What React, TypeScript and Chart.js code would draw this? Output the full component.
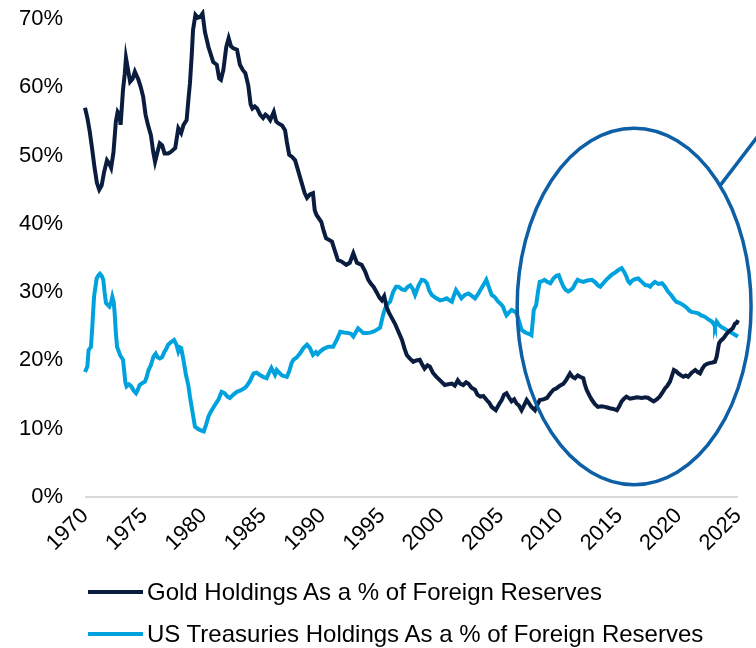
import React, { useEffect, useRef } from 'react';
import { Chart, registerables } from 'chart.js';

Chart.register(...registerables);

const FONT = "'Liberation Sans', Arial, sans-serif";

const GOLD_LABEL = 'Gold Holdings As a % of Foreign Reserves';
const TSY_LABEL = 'US Treasuries Holdings As a % of Foreign Reserves';
const GOLD_COLOR = '#0b1d3f';
const TSY_COLOR = '#00a2dd';
const CIRCLE_COLOR = '#0d5fa6';

const xTicks = [1970, 1975, 1980, 1985, 1990, 1995, 2000, 2005, 2010, 2015, 2020, 2025];
const yTicks = [0, 10, 20, 30, 40, 50, 60, 70];

const goldYears = [
  1970.0, 1970.2, 1970.4, 1970.6, 1970.8, 1971.0, 1971.2, 1971.4, 1971.6, 1971.85,
  1972.05, 1972.2, 1972.4, 1972.6, 1972.75, 1972.9, 1973.0, 1973.2, 1973.35, 1973.45,
  1973.6, 1973.8, 1974.0, 1974.2, 1974.5, 1974.7, 1974.9, 1975.1, 1975.3, 1975.55,
  1975.75, 1975.9, 1976.1, 1976.3, 1976.5, 1976.7, 1977.0, 1977.2, 1977.6, 1977.86,
  1978.1, 1978.3, 1978.56, 1978.7, 1978.84, 1979.0, 1979.1, 1979.3, 1979.5, 1979.7,
  1979.9, 1980.1, 1980.4, 1980.8, 1981.1, 1981.3, 1981.45, 1981.65, 1981.9, 1982.1,
  1982.3, 1982.5, 1982.8, 1983.05, 1983.3, 1983.5, 1983.75, 1983.95, 1984.1, 1984.3,
  1984.5, 1984.75, 1985.0, 1985.2, 1985.4, 1985.6, 1985.9, 1986.1, 1986.3, 1986.6,
  1986.85, 1987.0, 1987.2, 1987.45, 1987.7, 1988.0, 1988.25, 1988.5, 1988.7, 1988.95,
  1989.2, 1989.35, 1989.5, 1989.9, 1990.1, 1990.3, 1990.8, 1991.0, 1991.3, 1991.6,
  1992.0, 1992.3, 1992.6, 1992.9, 1993.3, 1993.6, 1993.86, 1994.1, 1994.3, 1994.56,
  1994.8, 1995.0, 1995.2, 1995.4, 1995.6, 1995.85, 1996.1, 1996.4, 1996.7, 1996.9,
  1997.1, 1997.35, 1997.65, 1997.9, 1998.2, 1998.4, 1998.6, 1998.85, 1999.05, 1999.3,
  1999.6, 1999.95, 2000.3, 2000.6, 2000.9, 2001.15, 2001.4, 2001.6, 2001.86, 2002.1,
  2002.3, 2002.55, 2002.85, 2003.05, 2003.3, 2003.55, 2003.83, 2004.05, 2004.25, 2004.6,
  2004.85, 2005.1, 2005.3, 2005.5, 2005.7, 2005.93, 2006.15, 2006.35, 2006.55, 2006.77,
  2007.0, 2007.2, 2007.4, 2007.6, 2007.9, 2008.1, 2008.3, 2008.6, 2008.9, 2009.2,
  2009.45, 2009.7, 2010.0, 2010.3, 2010.55, 2010.85, 2011.05, 2011.27, 2011.5, 2011.7,
  2011.97, 2012.1, 2012.25, 2012.5, 2012.7, 2012.95, 2013.2, 2013.5, 2013.8, 2014.0,
  2014.2, 2014.5, 2014.8, 2015.0, 2015.2, 2015.4, 2015.6, 2015.9, 2016.2, 2016.5,
  2016.9, 2017.2, 2017.45, 2017.7, 2017.9, 2018.15, 2018.4, 2018.6, 2018.85, 2019.05,
  2019.27, 2019.45, 2019.6, 2019.8, 2019.97, 2020.2, 2020.4, 2020.6, 2020.8, 2021.1,
  2021.4, 2021.6, 2021.8, 2022.0, 2022.2, 2022.4, 2022.6, 2022.85, 2023.06, 2023.2,
  2023.3, 2023.4, 2023.55, 2023.75, 2024.0, 2024.2, 2024.4, 2024.55, 2024.75, 2024.9,
  2025.0,
];
const goldPct = [
  57.0, 55.5, 53.5, 51.0, 48.3, 46.0, 45.0, 45.6, 47.5, 49.3,
  48.8, 48.2, 50.5, 55.0, 56.4, 56.0, 54.5, 59.6, 62.0, 64.3,
  62.8, 60.8, 61.2, 62.3, 61.1, 60.0, 58.6, 56.0, 54.5, 53.0,
  50.5, 49.1, 50.5, 51.8, 51.5, 50.3, 50.3, 50.5, 51.1, 54.0,
  53.3, 54.5, 55.2, 58.0, 60.6, 65.0, 68.4, 70.6, 70.2, 70.3,
  70.8, 68.1, 65.9, 63.7, 63.3, 61.3, 61.1, 62.5, 65.9, 67.2,
  66.0, 65.7, 65.5, 63.3, 62.5, 62.1, 60.3, 57.5, 56.9, 57.2,
  56.9, 56.0, 55.5, 56.0, 55.7, 55.2, 56.4, 55.0, 54.7, 54.4,
  53.7, 52.0, 50.1, 49.8, 49.3, 47.5, 46.0, 44.5, 43.8, 44.3,
  44.5, 42.0, 41.3, 40.3, 39.0, 37.9, 37.4, 36.3, 34.7, 34.5,
  34.0, 34.3, 35.7, 34.3, 34.0, 33.0, 31.8, 31.2, 30.8, 30.0,
  29.2, 28.8, 29.4, 27.8, 27.0, 26.2, 25.4, 24.2, 23.0, 21.8,
  20.8, 20.3, 19.8, 20.0, 20.1, 19.4, 18.8, 19.3, 19.1, 18.2,
  17.6, 17.0, 16.4, 16.5, 16.6, 16.3, 17.1, 16.6, 16.4, 16.8,
  16.6, 16.0, 15.7, 15.0, 14.7, 14.8, 14.2, 13.8, 13.2, 12.7,
  13.5, 14.2, 15.0, 15.2, 14.6, 14.0, 14.3, 13.7, 13.4, 12.7,
  13.5, 14.2, 13.7, 13.2, 12.7, 13.5, 14.2, 14.3, 14.5, 15.2,
  15.7, 15.9, 16.3, 16.6, 17.2, 18.1, 17.6, 17.4, 17.8, 17.6,
  17.4, 16.5, 15.7, 14.8, 14.2, 13.6, 13.2, 13.3, 13.2, 13.1,
  13.0, 12.9, 12.7, 13.3, 14.0, 14.4, 14.7, 14.4, 14.5, 14.6,
  14.5, 14.6, 14.5, 14.2, 14.0, 14.3, 14.7, 15.2, 15.9, 16.3,
  16.9, 17.8, 18.6, 18.4, 18.1, 17.8, 17.6, 17.8, 17.6, 18.2,
  18.6, 18.3, 18.1, 18.8, 19.3, 19.5, 19.6, 19.7, 19.8, 20.5,
  21.5, 22.5, 22.9, 23.2, 23.8, 24.2, 24.5, 24.7, 25.4, 25.5,
  25.9,
];

const tsyYears = [
  1970.0, 1970.2, 1970.3, 1970.5, 1970.6, 1970.76, 1970.98, 1971.15, 1971.26, 1971.4,
  1971.54, 1971.65, 1971.77, 1972.05, 1972.2, 1972.3, 1972.42, 1972.5, 1972.6, 1972.7,
  1972.95, 1973.2, 1973.3, 1973.4, 1973.5, 1973.7, 1973.9, 1974.1, 1974.3, 1974.45,
  1974.6, 1974.85, 1975.05, 1975.2, 1975.35, 1975.55, 1975.75, 1975.95, 1976.1, 1976.3,
  1976.5, 1976.7, 1976.85, 1977.0, 1977.25, 1977.5, 1977.7, 1977.86, 1978.0, 1978.1,
  1978.3, 1978.5, 1978.7, 1978.84, 1979.05, 1979.26, 1979.5, 1979.7, 1980.0, 1980.2,
  1980.4, 1980.6, 1980.95, 1981.25, 1981.5, 1981.75, 1982.0, 1982.2, 1982.5, 1982.8,
  1983.1, 1983.4, 1983.6, 1983.9, 1984.2, 1984.45, 1984.7, 1985.0, 1985.3, 1985.5,
  1985.7, 1986.0, 1986.15, 1986.3, 1986.6, 1987.0, 1987.2, 1987.4, 1987.55, 1987.8,
  1988.1, 1988.4, 1988.7, 1988.95, 1989.2, 1989.45, 1989.6, 1989.8, 1990.1, 1990.5,
  1990.9, 1991.2, 1991.5, 1991.8, 1992.2, 1992.4, 1992.6, 1993.0, 1993.2, 1993.45,
  1993.8, 1994.1, 1994.4, 1994.85, 1995.1, 1995.27, 1995.5, 1995.7, 1995.95, 1996.2,
  1996.4, 1996.7, 1996.95, 1997.2, 1997.4, 1997.6, 1997.8, 1998.1, 1998.36, 1998.6,
  1998.8, 1999.0, 1999.2, 1999.5, 1999.9, 2000.2, 2000.46, 2000.7, 2000.9, 2001.05,
  2001.25, 2001.45, 2001.7, 2002.0, 2002.3, 2002.55, 2002.85, 2003.1, 2003.4, 2003.6,
  2003.8, 2004.0, 2004.25, 2004.5, 2004.8, 2005.0, 2005.2, 2005.35, 2005.5, 2005.7,
  2005.93, 2006.15, 2006.35, 2006.55, 2006.77, 2007.0, 2007.2, 2007.4, 2007.6, 2007.7,
  2007.8, 2008.0, 2008.15, 2008.3, 2008.5, 2008.7, 2008.95, 2009.2, 2009.45, 2009.7,
  2009.9, 2010.1, 2010.3, 2010.5, 2010.7, 2010.9, 2011.1, 2011.3, 2011.5, 2011.75,
  2011.97, 2012.3, 2012.7, 2013.0, 2013.2, 2013.4, 2013.65, 2013.9, 2014.2, 2014.4,
  2014.6, 2014.9, 2015.2, 2015.4, 2015.6, 2015.75, 2015.9, 2016.1, 2016.3, 2016.6,
  2016.9, 2017.2, 2017.4, 2017.6, 2017.8, 2018.0, 2018.3, 2018.6, 2018.85, 2019.1,
  2019.4, 2019.6, 2019.8, 2020.1, 2020.4, 2020.7, 2020.9, 2021.1, 2021.4, 2021.65,
  2021.9, 2022.2, 2022.5, 2022.8, 2023.0, 2023.06, 2023.2, 2023.4, 2023.6, 2023.9,
  2024.1, 2024.3, 2024.6, 2024.8, 2025.0,
];
const tsyPct = [
  18.3, 19.1, 21.5, 22.0, 24.5, 29.3, 32.0, 32.5, 32.7, 32.4,
  31.8, 30.0, 28.4, 27.9, 28.5, 29.3, 28.5, 26.9, 24.0, 22.0,
  20.8, 20.1, 18.5, 16.8, 16.2, 16.5, 16.2, 15.6, 15.2, 15.7,
  16.4, 16.7, 16.9, 17.6, 18.6, 19.3, 20.5, 21.0, 20.5, 20.3,
  20.5, 21.3, 21.7, 22.3, 22.7, 23.0, 22.3, 21.3, 21.9, 21.8,
  20.0, 17.9, 16.4, 14.7, 12.5, 10.3, 10.0, 9.8, 9.6, 10.6,
  11.8, 12.5, 13.5, 14.3, 15.4, 15.2, 14.7, 14.5, 15.0, 15.4,
  15.6, 15.9, 16.2, 17.0, 18.1, 18.2, 17.9, 17.6, 17.4, 18.2,
  18.9, 17.9, 18.6, 18.3, 17.8, 17.6, 18.4, 19.6, 20.1, 20.4,
  21.0, 21.8, 22.3, 21.8, 20.8, 21.2, 20.9, 21.3, 21.7, 22.0,
  22.0, 23.0, 24.2, 24.1, 24.0, 23.9, 23.5, 24.7, 24.4, 24.0,
  24.0, 24.1, 24.3, 24.8, 26.6, 27.6, 28.3, 28.6, 30.0, 30.8,
  30.8, 30.4, 30.3, 30.8, 31.0, 30.5, 29.6, 31.0, 31.8, 31.7,
  31.3, 30.2, 29.6, 29.2, 28.8, 28.9, 29.1, 28.8, 28.6, 29.4,
  30.3, 29.8, 29.1, 29.6, 29.8, 29.5, 29.1, 29.7, 30.6, 31.2,
  31.8, 30.8, 29.6, 29.3, 28.6, 28.3, 27.9, 27.2, 26.6, 27.0,
  27.4, 27.2, 26.9, 25.8, 24.5, 24.2, 24.0, 23.9, 23.7, 25.5,
  27.4, 28.1, 30.0, 31.5, 31.6, 31.8, 31.5, 31.3, 32.0, 32.4,
  32.5, 31.6, 30.8, 30.3, 30.1, 30.3, 30.6, 31.3, 31.8, 31.6,
  31.5, 31.7, 31.8, 31.4, 31.0, 30.8, 31.3, 31.8, 32.3, 32.6,
  32.8, 33.2, 33.5, 33.0, 32.3, 31.6, 31.3, 31.7, 31.9, 32.0,
  31.5, 31.0, 31.0, 30.8, 31.2, 31.5, 31.2, 31.3, 30.8, 30.1,
  29.5, 29.0, 28.6, 28.4, 28.1, 27.7, 27.3, 27.1, 27.0, 26.9,
  26.6, 26.4, 26.0, 25.7, 25.2, 24.9, 25.7, 25.2, 24.9, 24.6,
  24.4, 24.2, 23.9, 23.7, 23.5,
];

// Highlight ellipse annotation, in data units (year, percent)
const ELLIPSE_CENTER = { year: 2016.25, pct: 27.9 };
const ELLIPSE_RADII = { years: 9.85, pct: 26.1 };
const CONNECTOR_ANGLE_DEG = 42.7; // point on ellipse where the connector starts
const CONNECTOR_DIR = { dx: 36, dy: -47 };

const ellipsePlugin = {
  id: 'highlightEllipse',
  afterDatasetsDraw(chart: any) {
    const { ctx, scales } = chart;
    const x = scales.x;
    const y = scales.y;
    const cx = x.getPixelForValue(ELLIPSE_CENTER.year);
    const cy = y.getPixelForValue(ELLIPSE_CENTER.pct);
    const rx = Math.abs(x.getPixelForValue(ELLIPSE_CENTER.year + ELLIPSE_RADII.years) - cx);
    const ry = Math.abs(y.getPixelForValue(ELLIPSE_CENTER.pct + ELLIPSE_RADII.pct) - cy);
    ctx.save();
    ctx.strokeStyle = CIRCLE_COLOR;
    ctx.lineWidth = 3.5;
    ctx.beginPath();
    ctx.ellipse(cx, cy, rx, ry, 0, 0, Math.PI * 2);
    ctx.stroke();
    const a = (CONNECTOR_ANGLE_DEG * Math.PI) / 180;
    const sx = cx + rx * Math.cos(a);
    const sy = cy - ry * Math.sin(a);
    const len = Math.hypot(CONNECTOR_DIR.dx, CONNECTOR_DIR.dy);
    ctx.beginPath();
    ctx.moveTo(sx, sy);
    ctx.lineTo(sx + (CONNECTOR_DIR.dx / len) * 120, sy + (CONNECTOR_DIR.dy / len) * 120);
    ctx.stroke();
    ctx.restore();
  },
};

export default function App() {
  const ref = useRef<HTMLCanvasElement>(null);

  useEffect(() => {
    document.body.style.margin = '0';
    const canvas = ref.current;
    if (!canvas) return;
    const chart = new Chart(canvas, {
      type: 'line',
      data: {
        datasets: [
          {
            label: GOLD_LABEL,
            data: goldYears.map((yr, i) => ({ x: yr, y: goldPct[i] })),
            borderColor: GOLD_COLOR,
            backgroundColor: GOLD_COLOR,
            borderWidth: 4,
            pointRadius: 0,
            tension: 0,
            clip: 10,
          },
          {
            label: TSY_LABEL,
            data: tsyYears.map((yr, i) => ({ x: yr, y: tsyPct[i] })),
            borderColor: TSY_COLOR,
            backgroundColor: TSY_COLOR,
            borderWidth: 4,
            pointRadius: 0,
            tension: 0,
            clip: 10,
          },
        ],
      },
      options: {
        responsive: false,
        animation: false,
        devicePixelRatio: 1,
        layout: { padding: { top: 19, right: 18, bottom: 81, left: 0 } },
        plugins: {
          legend: { display: false },
          tooltip: { enabled: false },
        },
        scales: {
          x: {
            type: 'linear',
            min: 1970,
            max: 2025,
            afterBuildTicks: (scale: any) => {
              scale.ticks = xTicks.map((v) => ({ value: v }));
            },
            afterFit: (scale: any) => {
              scale.height = 70;
              scale.paddingLeft = 0;
              scale.paddingRight = 0;
              scale.paddingTop = 0;
              scale.paddingBottom = 0;
            },
            grid: { display: false, drawTicks: false },
            border: { display: false },
            ticks: {
              autoSkip: false,
              minRotation: 45,
              maxRotation: 45,
              padding: 6,
              color: '#000',
              font: { family: FONT, size: 22 },
              callback: (v: any) => String(v),
            },
          },
          y: {
            min: 0,
            max: 70,
            afterBuildTicks: (scale: any) => {
              scale.ticks = yTicks.map((v) => ({ value: v }));
            },
            afterFit: (scale: any) => {
              scale.width = 85;
              scale.paddingTop = 0;
              scale.paddingBottom = 0;
              scale.paddingLeft = 0;
              scale.paddingRight = 0;
            },
            grid: {
              drawTicks: false,
              lineWidth: 2,
              color: (ctx: any) => (ctx.tick && ctx.tick.value === 0 ? '#d9d9d9' : 'rgba(0,0,0,0)'),
            },
            border: { display: false },
            ticks: {
              padding: 22,
              color: '#000',
              font: { family: FONT, size: 22 },
              callback: (v: any) => `${v}%`,
            },
          },
        },
      },
      plugins: [ellipsePlugin],
    });
    return () => chart.destroy();
  }, []);

  const rowStyle: React.CSSProperties = {
    display: 'flex',
    alignItems: 'center',
    height: 42,
  };
  const textStyle: React.CSSProperties = {
    fontFamily: FONT,
    fontSize: 24,
    color: '#000',
    whiteSpace: 'nowrap',
    lineHeight: '42px',
  };

  return (
    <div style={{ position: 'relative', width: 756, height: 648, background: '#fff', overflow: 'hidden' }}>
      <canvas ref={ref} width={756} height={648} style={{ display: 'block', width: 756, height: 648 }} />
      <div style={{ position: 'absolute', left: 88, top: 571 }}>
        <div style={rowStyle}>
          <span style={{ display: 'inline-block', width: 55, height: 4, background: GOLD_COLOR, marginRight: 4 }} />
          <span style={textStyle}>{GOLD_LABEL}</span>
        </div>
        <div style={rowStyle}>
          <span style={{ display: 'inline-block', width: 55, height: 4, background: TSY_COLOR, marginRight: 4 }} />
          <span style={textStyle}>{TSY_LABEL}</span>
        </div>
      </div>
    </div>
  );
}
